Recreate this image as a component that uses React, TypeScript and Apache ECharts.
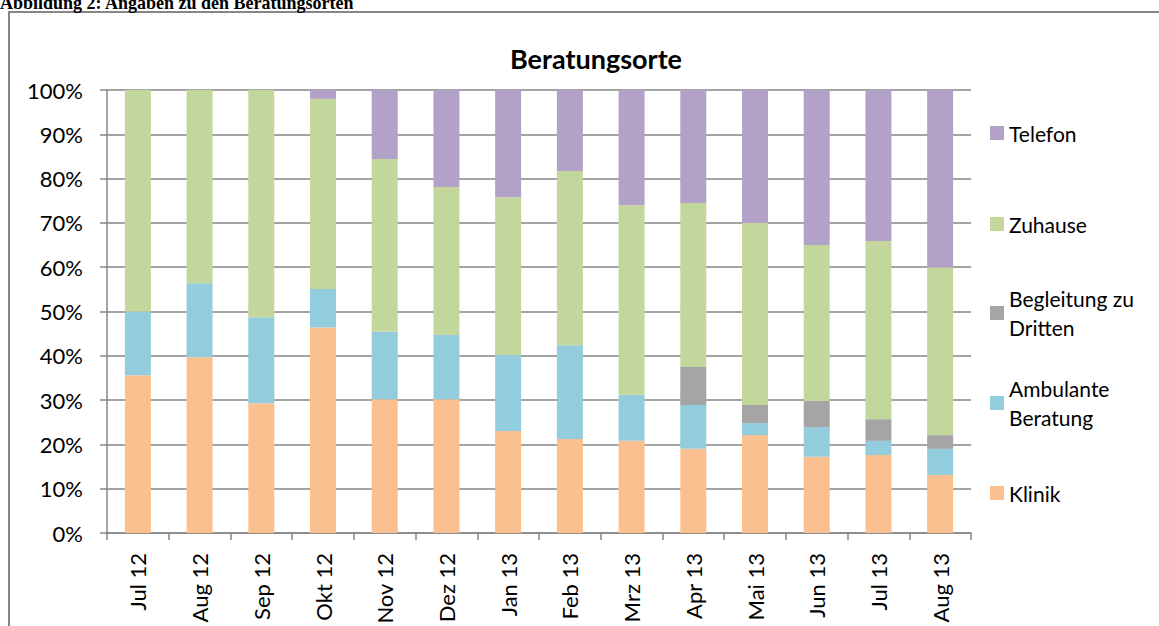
import React, { useEffect, useRef } from "react";
import * as echarts from "echarts";

const categories = ["Jul 12", "Aug 12", "Sep 12", "Okt 12", "Nov 12", "Dez 12", "Jan 13", "Feb 13", "Mrz 13", "Apr 13", "Mai 13", "Jun 13", "Jul 13", "Aug 13"];
const klinik = [35.6, 39.7, 29.3, 46.4, 30.2, 30.2, 23.0, 21.2, 20.8, 19.0, 22.1, 17.2, 17.6, 13.1];
const ambulant = [14.4, 16.7, 19.4, 8.7, 15.3, 14.5, 17.2, 21.2, 10.4, 9.9, 2.7, 6.7, 3.2, 5.9];
const begleitung = [0, 0, 0, 0, 0, 0, 0, 0, 0, 8.6, 4.1, 5.9, 4.9, 3.1];
const zuhause = [50.0, 43.6, 51.3, 42.9, 38.9, 33.4, 35.6, 39.3, 42.8, 37.0, 41.1, 35.2, 40.2, 37.9];
const telefon = [0, 0, 0, 2.0, 15.6, 21.9, 24.2, 18.3, 26.0, 25.5, 30.0, 35.0, 34.1, 40.0];

const seriesNames = ["Klinik", "Ambulante Beratung", "Begleitung zu Dritten", "Zuhause", "Telefon"];
const legendLabels: Record<string, string> = {
  "Klinik": "Klinik",
  "Ambulante Beratung": "Ambulante\nBeratung",
  "Begleitung zu Dritten": "Begleitung zu\nDritten",
  "Zuhause": "Zuhause",
  "Telefon": "Telefon",
};
const colors = ["#FAC090", "#93CDDD", "#A5A5A5", "#C3D69B", "#B2A2C7"];

const FONT = "Lato, 'Noto Sans', sans-serif";
const GRAY = "#868686";

export default function App() {
  const ref = useRef<HTMLDivElement>(null);
  useEffect(() => {
    if (!ref.current) return;
    const chart = echarts.init(ref.current, null, { renderer: "svg" });
    const data = [klinik, ambulant, begleitung, zuhause, telefon];
    const LH = 29;
    const mkLegend = (name: string, top: number, twoLine: boolean) => ({
      data: [name],
      orient: "vertical",
      left: 990,
      top,
      padding: 0,
      itemWidth: 14,
      itemHeight: 14,
      icon: "rect",
      formatter: (n: string) => legendLabels[n],
      textStyle: {
        fontFamily: FONT,
        fontSize: 21,
        color: "#000",
        lineHeight: LH,
        padding: twoLine ? [LH, 0, 0, 0] : 0,
      },
    });
    chart.setOption({
      animation: false,
      backgroundColor: "#fff",
      title: {
        text: "Beratungsorte",
        left: 591,
        top: 53,
        textAlign: "center",
        textVerticalAlign: "middle",
        textStyle: { fontFamily: FONT, fontSize: 27, fontWeight: "bold", color: "#000" },
      },
      graphic: [
        {
          type: "rect",
          shape: { x: 9, y: 12, width: 1200, height: 700 },
          style: { fill: "none", stroke: GRAY, lineWidth: 2 },
          silent: true,
        },
        {
          type: "text",
          x: 0,
          y: 12,
          style: {
            text: "Abbildung 2: Angaben zu den Beratungsorten",
            font: "bold 18px 'Liberation Serif', 'Times New Roman', serif",
            fill: "#000",
            textVerticalAlign: "bottom",
          },
        },
      ],
      legend: [
        mkLegend("Telefon", 118.5, false),
        mkLegend("Zuhause", 209.5, false),
        mkLegend("Begleitung zu Dritten", 269.5, true),
        mkLegend("Ambulante Beratung", 359.5, true),
        mkLegend("Klinik", 478.5, false),
      ],
      grid: { left: 107, right: 188, top: 90, bottom: 93, containLabel: false, outerBoundsMode: "none" },
      xAxis: {
        type: "category",
        data: categories,
        axisLine: { lineStyle: { color: GRAY, width: 1.5 } },
        axisTick: { show: true, length: 7, alignWithLabel: false, lineStyle: { color: GRAY, width: 1.5 } },
        axisLabel: { rotate: 90, margin: 20, fontFamily: FONT, fontSize: 22, color: "#000", interval: 0 },
      },
      yAxis: {
        type: "value",
        min: 0,
        max: 100,
        interval: 10,
        axisLine: { show: true, lineStyle: { color: GRAY, width: 1.5 } },
        axisTick: { show: true, length: 7, lineStyle: { color: GRAY, width: 1.5 } },
        axisLabel: { formatter: "{value}%", margin: 24, fontFamily: FONT, fontSize: 22, color: "#000" },
        splitLine: { show: true, lineStyle: { color: GRAY, width: 1.5 } },
      },
      series: seriesNames.map((name, i) => ({
        name,
        type: "bar",
        stack: "total",
        barWidth: 26,
        data: data[i],
        itemStyle: { color: colors[i] },
      })),
    });
    return () => chart.dispose();
  }, []);
  return (
    <div
      ref={ref}
      style={{ position: "absolute", left: 0, top: 0, width: 1159, height: 626 }}
    />
  );
}
